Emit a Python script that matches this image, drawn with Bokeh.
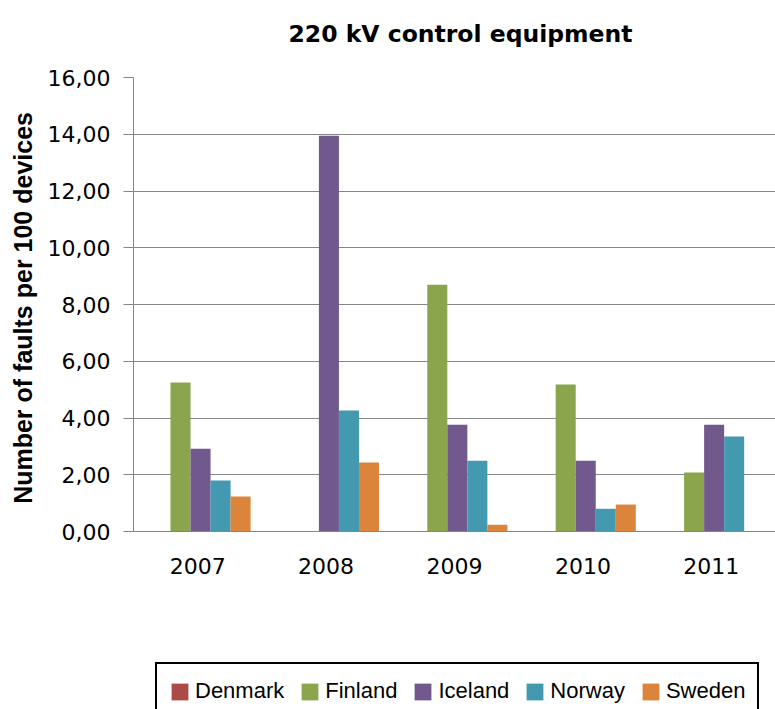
from bokeh.plotting import figure
from bokeh.layouts import column
from bokeh.models import (ColumnDataSource, FactorRange, Legend, LegendItem,
                          FixedTicker, CustomJSTickFormatter, Range1d)
from bokeh.transform import dodge
from bokeh.embed import file_html
from bokeh.resources import INLINE

years = ["2007", "2008", "2009", "2010", "2011"]
countries = ["Denmark", "Finland", "Iceland", "Norway", "Sweden"]
denmark = [0.0, 0.0, 0.0, 0.0, 0.0]
finland = [5.25, 0.0, 8.70, 5.18, 2.08]
iceland = [2.92, 13.95, 3.76, 2.49, 3.76]
norway = [1.80, 4.26, 2.49, 0.80, 3.35]
sweden = [1.23, 2.43, 0.24, 0.95, 0.0]
y_ticks = [0, 2, 4, 6, 8, 10, 12, 14, 16]

colors = ["#AC4A47", "#8AA54C", "#71598E", "#4299B0", "#DD843C"]

src = ColumnDataSource(dict(year=years, Denmark=denmark, Finland=finland,
                            Iceland=iceland, Norway=norway, Sweden=sweden))

bw = 0.156
shift = 0.022
offsets = [shift - 2 * bw, shift - bw, shift, shift + bw, shift + 2 * bw]

# ---------------- main chart ----------------
p = figure(width=775, height=655, x_range=FactorRange(*years),
           y_range=Range1d(0, 16), output_backend="svg", toolbar_location=None,
           min_border_left=133, min_border_right=0, min_border_top=92,
           min_border_bottom=109, margin=(-15, 0, 0, 0))

p.title.text = "220 kV control equipment"
p.title.text_font = "DejaVu Sans"
p.title.text_font_style = "bold"
p.title.text_font_size = "23.5px"
p.title.text_color = "black"
p.title.align = "left"
p.title.offset = 155
p.title.standoff = 60

for c, col, off in zip(countries, colors, offsets):
    p.vbar(x=dodge("year", off, range=p.x_range), top=c, width=bw,
           source=src, fill_color=col, line_color=None)

p.outline_line_color = None
p.xgrid.grid_line_color = None
p.ygrid.grid_line_color = "#868686"
p.ygrid.grid_line_width = 1

p.yaxis.ticker = FixedTicker(ticks=y_ticks)
p.yaxis.formatter = CustomJSTickFormatter(code="return tick.toFixed(2).replace('.', ',');")
p.yaxis.axis_line_color = "#868686"
p.yaxis.major_tick_line_color = "#868686"
p.yaxis.major_tick_out = 10
p.yaxis.major_tick_in = 0
p.yaxis.minor_tick_line_color = None
p.yaxis.major_label_text_font = "DejaVu Sans"
p.yaxis.major_label_text_font_size = "22px"
p.yaxis.major_label_text_color = "black"
p.yaxis.major_label_standoff = 13
p.yaxis.axis_label = "Number of faults  per 100 devices"
p.yaxis.axis_label_text_font = "Liberation Sans"
p.yaxis.axis_label_text_font_style = "bold"
p.yaxis.axis_label_text_font_size = "25px"
p.yaxis.axis_label_text_color = "black"
p.yaxis.axis_label_standoff = 8

p.xaxis.axis_line_color = "#868686"
p.xaxis.major_tick_line_color = None
p.xaxis.minor_tick_line_color = None
p.xaxis.major_label_text_font = "DejaVu Sans"
p.xaxis.major_label_text_font_size = "22px"
p.xaxis.major_label_text_color = "black"
p.xaxis.major_label_standoff = 20

# ---------------- legend strip ----------------
lg = figure(width=775, height=69, x_range=FactorRange(*years),
            y_range=Range1d(0, 16), output_backend="svg", toolbar_location=None,
            x_axis_type=None, y_axis_type=None, min_border_left=126,
            min_border_right=0, min_border_top=0, min_border_bottom=0)
lg.outline_line_color = None
lg.grid.grid_line_color = None

items = []
for c, col, off in zip(countries, colors, offsets):
    r = lg.vbar(x=dodge("year", off, range=lg.x_range), top=c, width=bw,
                source=src, fill_color=col, line_color=None, visible=False)
    items.append(LegendItem(label=c, renderers=[r]))

legend = Legend(items=items, orientation="horizontal", location="top_left")
legend.label_text_font = "Liberation Sans"
legend.label_text_font_size = "22px"
legend.label_text_color = "black"
legend.glyph_width = 21
legend.glyph_height = 21
legend.label_standoff = 5
legend.spacing = 15
legend.padding = 12
legend.margin = 22
legend.label_height = 30
legend.border_line_color = "black"
legend.border_line_alpha = 1
legend.border_line_width = 2
legend.background_fill_color = "white"
legend.background_fill_alpha = 1
legend.inactive_fill_alpha = 0
lg.add_layout(legend, "center")

layout = column(p, lg, spacing=0)
open("out.html", "w").write(file_html(layout, INLINE))
